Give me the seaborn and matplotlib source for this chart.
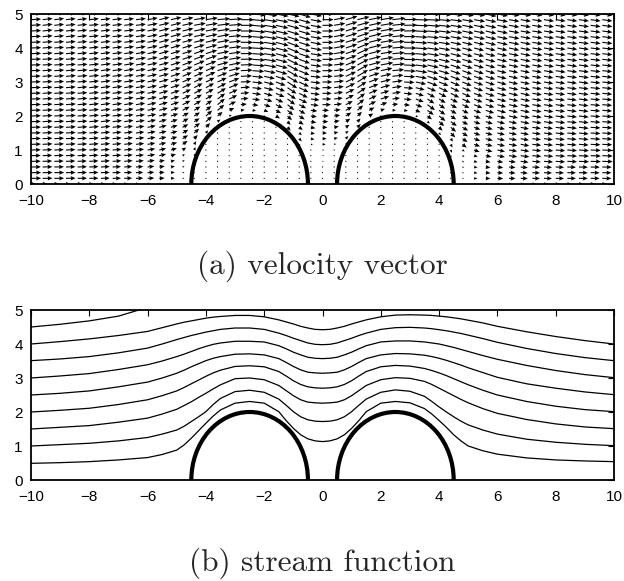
import numpy as np
import pandas as pd
import seaborn as sns
import matplotlib.pyplot as plt
from matplotlib.patches import Arc

# ---------------- data ----------------
x_cols = [-10, -9, -8, -7, -6, -5.5, -5, -4.75, -4.5, -4.25, -4, -3.75, -3.5, -3, -2.5, -2,
          -1.5, -1.25, -1, -0.75, -0.5, -0.25, 0, 0.25, 0.5, 0.75, 1, 1.25, 1.5, 2, 2.5, 3,
          3.5, 3.75, 4, 4.25, 4.5, 4.75, 5, 5.5, 6, 7, 8, 9, 10]

levels = [0.5, 1.0, 1.5, 2.0, 2.5, 3.0, 3.5, 4.0]

line_05 = [0.49, 0.51, 0.54, 0.59, 0.66, 0.75, 0.88, 1.03, 1.23, 1.45, 1.67, 1.88, 2.06, 2.26, 2.31, 2.26,
           2.01, 1.75, 1.52, 1.33, 1.21, 1.15, 1.13, 1.15, 1.21, 1.33, 1.52, 1.75, 2.01, 2.26, 2.31, 2.27,
           2.10, 1.94, 1.75, 1.55, 1.33, 1.15, 1.00, 0.86, 0.76, 0.65, 0.59, 0.56, 0.54]
line_10 = [1.00, 1.04, 1.08, 1.15, 1.25, 1.35, 1.47, 1.58, 1.72, 1.86, 2.01, 2.22, 2.40, 2.60, 2.64, 2.58,
           2.38, 2.20, 2.01, 1.86, 1.77, 1.73, 1.72, 1.73, 1.77, 1.86, 2.01, 2.20, 2.38, 2.58, 2.65, 2.61,
           2.46, 2.31, 2.15, 2.00, 1.86, 1.73, 1.62, 1.47, 1.35, 1.20, 1.11, 1.05, 1.01]
line_15 = [1.50, 1.55, 1.60, 1.70, 1.82, 1.94, 2.08, 2.19, 2.30, 2.43, 2.55, 2.68, 2.80, 2.98, 3.00, 2.95,
           2.78, 2.63, 2.48, 2.36, 2.29, 2.27, 2.26, 2.27, 2.29, 2.36, 2.48, 2.63, 2.78, 2.95, 3.01, 2.99,
           2.90, 2.81, 2.70, 2.59, 2.48, 2.37, 2.27, 2.10, 1.96, 1.78, 1.65, 1.56, 1.51]
line_20 = [2.00, 2.05, 2.11, 2.22, 2.36, 2.48, 2.62, 2.72, 2.83, 2.94, 3.05, 3.15, 3.23, 3.34, 3.36, 3.33,
           3.19, 3.06, 2.92, 2.81, 2.74, 2.71, 2.70, 2.71, 2.74, 2.81, 2.92, 3.06, 3.19, 3.33, 3.37, 3.35,
           3.28, 3.22, 3.15, 3.07, 2.98, 2.89, 2.80, 2.64, 2.50, 2.31, 2.17, 2.07, 2.01]
line_25 = [2.50, 2.55, 2.62, 2.74, 2.88, 3.00, 3.14, 3.23, 3.33, 3.42, 3.51, 3.58, 3.63, 3.70, 3.71, 3.68,
           3.57, 3.46, 3.34, 3.24, 3.17, 3.15, 3.14, 3.15, 3.17, 3.24, 3.34, 3.46, 3.57, 3.68, 3.72, 3.71,
           3.67, 3.63, 3.58, 3.52, 3.45, 3.38, 3.30, 3.16, 3.02, 2.83, 2.70, 2.59, 2.51]
line_30 = [3.00, 3.06, 3.13, 3.25, 3.39, 3.50, 3.63, 3.70, 3.78, 3.86, 3.93, 3.99, 4.03, 4.08, 4.08, 4.06,
           3.95, 3.86, 3.76, 3.68, 3.61, 3.58, 3.57, 3.58, 3.61, 3.68, 3.76, 3.86, 3.95, 4.06, 4.09, 4.09,
           4.06, 4.03, 4.00, 3.95, 3.90, 3.84, 3.78, 3.66, 3.55, 3.37, 3.22, 3.10, 3.01]
line_35 = [3.51, 3.56, 3.63, 3.74, 3.88, 4.00, 4.13, 4.19, 4.25, 4.30, 4.35, 4.39, 4.43, 4.47, 4.47, 4.43,
           4.32, 4.25, 4.17, 4.10, 4.03, 3.99, 3.98, 3.99, 4.03, 4.10, 4.17, 4.25, 4.32, 4.43, 4.48, 4.49,
           4.47, 4.45, 4.42, 4.39, 4.35, 4.31, 4.26, 4.16, 4.05, 3.87, 3.72, 3.60, 3.51]
line_40 = [4.00, 4.07, 4.15, 4.25, 4.37, 4.48, 4.59, 4.64, 4.68, 4.72, 4.76, 4.79, 4.81, 4.84, 4.84, 4.80,
           4.71, 4.65, 4.59, 4.52, 4.47, 4.43, 4.42, 4.43, 4.47, 4.52, 4.59, 4.65, 4.71, 4.80, 4.85, 4.86,
           4.85, 4.84, 4.82, 4.80, 4.77, 4.74, 4.70, 4.62, 4.52, 4.36, 4.22, 4.10, 4.00]

# partial top streamline (leaves the frame)
line_45_x = [-10, -9, -8, -7, -6.3]
line_45_y = [4.50, 4.58, 4.68, 4.82, 5.00]

# bumps: centres, half width, height
bump_centers = [-2.5, 2.5]
bump_halfwidth = 2.0
bump_height = 2.0

x_ticks = [-10, -8, -6, -4, -2, 0, 2, 4, 6, 8, 10]
y_ticks = [0, 1, 2, 3, 4, 5]
captions = ["(a) velocity vector", "(b) stream function"]

# quiver sampling grid
qx_step = 0.4
qy_rows = 31
# how quickly the arrows recover their size away from a bump (read visually)
near_bump_decay = 0.7

lines = [line_05, line_10, line_15, line_20, line_25, line_30, line_35, line_40]

# ---------------- helpers ----------------
def surface(x):
    x = np.atleast_1d(np.asarray(x, float))
    s = np.zeros_like(x)
    for c in bump_centers:
        t = (x - c) / bump_halfwidth
        m = np.abs(t) < 1
        s[m] = bump_height * np.sqrt(1 - t[m] ** 2)
    return s

xc = np.array(x_cols, float)
L = np.array(lines)          # (nlev, ncols)


def psi_grid(xs, ys):
    xs = np.asarray(xs, float)
    ys = np.asarray(ys, float)
    out = np.zeros((len(ys), len(xs)))
    for j, xv in enumerate(xs):
        h = [np.interp(xv, xc, L[k]) for k in range(len(levels))]
        s = surface(xv)[0]
        hp = [s] + h
        fp = [0.0] + levels
        hp.append(h[-1] + 4 * (h[-1] - h[-2]))
        fp.append(levels[-1] + 2.0)
        out[:, j] = np.interp(ys, hp, fp, left=0.0)
    return out


qx = np.arange(-10, 10 + 1e-9, qx_step)
qy = np.linspace(0, 5, qy_rows)
d = 0.08
U = (psi_grid(qx, qy + d) - psi_grid(qx, qy - d)) / (2 * d)
V = -(psi_grid(qx + d, qy) - psi_grid(qx - d, qy)) / (2 * d)
QX, QY = np.meshgrid(qx, qy)

# slow flow close to the (elliptic) bumps
damp = np.ones_like(QX)
for c in bump_centers:
    r = np.sqrt(((QX - c) / bump_halfwidth) ** 2 + (QY / bump_height) ** 2)
    dist = np.clip((r - 1) * bump_halfwidth, 0, None)
    damp *= 1 - np.exp(-dist / near_bump_decay)
U = U * damp
V = V * damp

# ---------------- figure ----------------
sns.set_theme(style="white")
plt.rcParams["font.family"] = ["Liberation Sans", "DejaVu Sans"]

fig = plt.figure(figsize=(6.24, 5.81), dpi=100)
ax1 = fig.add_axes([31 / 624, 1 - 184 / 581, 583 / 624, 170 / 581])
ax2 = fig.add_axes([31 / 624, 1 - 480 / 581, 583 / 624, 170 / 581])

ax1.quiver(QX, QY, U, V, angles="xy", scale_units="xy", scale=1 / 0.34,
           units="dots", width=1.1, headwidth=4.0, headlength=4.5,
           headaxislength=4.0, minlength=1.2, color="black", zorder=2)

df_lines = pd.DataFrame({"x": np.tile(xc, len(levels)),
                         "y": np.concatenate(lines),
                         "level": np.repeat(levels, len(xc))})
sns.lineplot(data=df_lines, x="x", y="y", units="level", estimator=None,
             sort=False, color="black", lw=0.9, ax=ax2, legend=False)
sns.lineplot(x=line_45_x, y=line_45_y, sort=False, estimator=None,
             color="black", lw=0.9, ax=ax2)

for ax, cap in zip([ax1, ax2], captions):
    for c in bump_centers:
        ax.add_patch(Arc((c, 0), 2 * bump_halfwidth, 2 * bump_height,
                         theta1=0, theta2=180, lw=3.0, color="black", zorder=5))
    ax.set_xlim(-10, 10)
    ax.set_ylim(0, 5)
    ax.set_xticks(x_ticks)
    ax.set_yticks(y_ticks)
    ax.set_xlabel("")
    ax.set_ylabel("")
    ax.tick_params(direction="in", top=True, right=True, length=4, width=0.8,
                   labelsize=11, colors="black")
    ax.tick_params(axis="x", pad=7)
    ax.tick_params(axis="y", pad=6)
    for sp in ax.spines.values():
        sp.set_color("black")
        sp.set_linewidth(1.3)
        sp.set_visible(True)
    ax.set_facecolor("white")

fig.text(322 / 624, 1 - 266 / 581, captions[0], ha="center", va="center",
         family=["cmr10", "DejaVu Serif"], fontsize=22.5)
fig.text(322 / 624, 1 - 563 / 581, captions[1], ha="center", va="center",
         family=["cmr10", "DejaVu Serif"], fontsize=22.5)

fig.savefig("out.png", dpi=100, facecolor="white")
